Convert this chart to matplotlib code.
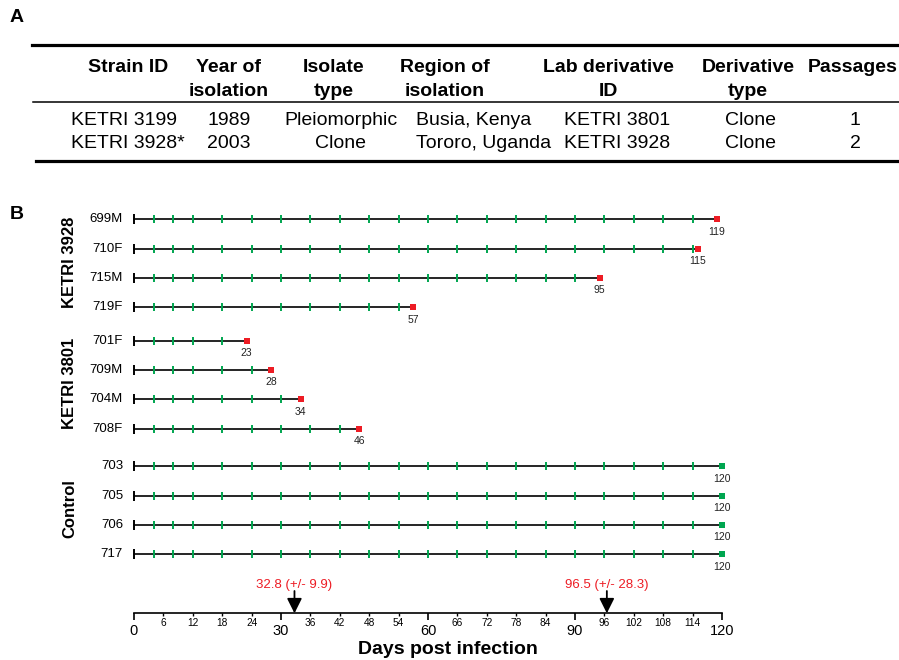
import numpy as np
import matplotlib
matplotlib.use('Agg')
import matplotlib.pyplot as plt
import matplotlib.transforms as mtransforms

plt.rcParams['font.family'] = ['Liberation Sans', 'DejaVu Sans']

# ---- table (panel A) ----
header_top = ["Strain ID", "Year of", "Isolate", "Region of", "Lab derivative", "Derivative", "Passages"]
header_bottom = ["", "isolation", "type", "isolation", "ID", "type", ""]
strains = ["KETRI 3199", "KETRI 3928*"]
years = ["1989", "2003"]
isolate_types = ["Pleiomorphic", "Clone"]
regions = ["Busia, Kenya", "Tororo, Uganda"]
lab_ids = ["KETRI 3801", "KETRI 3928"]
derivative_types = ["Clone", "Clone"]
passages = ["1", "2"]

# ---- survival (panel B) ----
groups = ["KETRI 3928", "KETRI 3801", "Control"]
mice = [["699M", "710F", "715M", "719F"],
        ["701F", "709M", "704M", "708F"],
        ["703", "705", "706", "717"]]
survival_days = [[119, 115, 95, 57],
                 [23, 28, 34, 46],
                 [120, 120, 120, 120]]
died = [True, True, False]
sample_days = [4, 8, 12, 18, 24, 30, 36, 42, 48, 54, 60, 66, 72, 78, 84, 90, 96, 102, 108, 114]

W, H = 899, 660
RED = '#ed1c24'
GREEN = '#00a650'

def fx(px):
    return px / W

def fy(py):
    return 1 - py / H

fig = plt.figure(figsize=(W / 100, H / 100), dpi=100)

# ---------- panel A ----------
fig.text(fx(10), fy(18), "A", fontsize=14, fontweight='bold', va='center')
fig.add_artist(plt.Line2D([fx(32), 1], [fy(44.5), fy(44.5)], color='black', lw=2.3))
fig.add_artist(plt.Line2D([fx(33), 1], [fy(102), fy(102)], color='black', lw=1.1))
fig.add_artist(plt.Line2D([fx(36), 1], [fy(160.5), fy(160.5)], color='black', lw=2.3))

head_x = [128, 229, 334, 445, 608, 748, 808]
head_ha = ['center', 'center', 'center', 'center', 'center', 'center', 'left']
for txt1, txt2, x, ha in zip(header_top, header_bottom, head_x, head_ha):
    fig.text(fx(x), fy(72.5), txt1, fontsize=14, fontweight='bold', ha=ha, va='baseline')
    if txt2:
        fig.text(fx(x), fy(96), txt2, fontsize=14, fontweight='bold', ha=ha, va='baseline')

columns = [strains, years, isolate_types, regions, lab_ids, derivative_types, passages]
body_x = [71, 229, 341, 416, 617, 750, 855]
body_ha = ['left', 'center', 'center', 'left', 'center', 'center', 'center']
row_base = [125.3, 148.3]
for col, x, ha in zip(columns, body_x, body_ha):
    for val, yb in zip(col, row_base):
        fig.text(fx(x), fy(yb), val, fontsize=14, ha=ha, va='baseline')

# ---------- panel B ----------
fig.text(fx(10), fy(215), "B", fontsize=14, fontweight='bold', va='center')

row_px = 29.35
ax_top, ax_bottom = 200, 613.3
first_row = 219.3
ax = fig.add_axes([fx(134), fy(ax_bottom), (722 - 134) / W, (ax_bottom - ax_top) / H])
ax.set_xlim(0, 120)
ax.set_ylim((ax_bottom - first_row) / row_px, (ax_top - first_row) / row_px)

group_gap = [0, 0.13, 0.42]
label_tr = mtransforms.blended_transform_factory(fig.transFigure, ax.transData)

i = 0
for g, name in enumerate(groups):
    ys = []
    for mouse, day in zip(mice[g], survival_days[g]):
        y = i + group_gap[g]
        ys.append(y)
        ax.plot([0, day], [y, y], color='black', lw=1.2, clip_on=False, zorder=2)
        ax.plot([0], [y], marker='|', color='black', ms=7, mew=1.4, clip_on=False, zorder=3)
        ticks = [d for d in sample_days if d < day]
        ax.plot(ticks, [y] * len(ticks), ls='none', marker='|', color=GREEN,
                ms=5.5, mew=1.4, clip_on=False, zorder=3)
        ax.plot([day], [y], ls='none', marker='s', color=RED if died[g] else GREEN,
                ms=5, mew=0, clip_on=False, zorder=4)
        ax.text(day, y + 0.42, str(day), fontsize=7.5, color='#222222',
                ha='center', va='center', clip_on=False)
        ax.text(fx(123), y, mouse, fontsize=9.5, ha='right', va='center', transform=label_tr)
        i += 1
    ax.text(fx(70), np.mean(ys) - 0.05, name, fontsize=12, fontweight='bold', rotation=90,
            ha='center', va='center', transform=label_tr)

# mean survival arrows for infected groups
arrow_tip = (ax_bottom - first_row) / row_px
arrow_tail = (591 - first_row) / row_px
text_y = (585 - first_row) / row_px
for g in [1, 0]:
    d = np.array(survival_days[g], dtype=float)
    m, s = d.mean(), d.std(ddof=1)
    ax.annotate('', xy=(m, arrow_tip), xytext=(m, arrow_tail),
                arrowprops=dict(arrowstyle='-|>,head_width=0.45,head_length=0.9',
                                color='black', lw=1.3, shrinkA=0, shrinkB=0),
                annotation_clip=False)
    ax.text(m, text_y, f"{m:.1f} (+/- {s:.1f})", color=RED, fontsize=9.5,
            ha='center', va='center', clip_on=False)

for side in ['left', 'right', 'top']:
    ax.spines[side].set_visible(False)
ax.spines['bottom'].set_linewidth(1.2)
ax.set_yticks([])
major = [0, 30, 60, 90, 120]
minor = [6, 12, 18, 24, 36, 42, 48, 54, 66, 72, 78, 84, 96, 102, 108, 114]
ax.set_xticks(major)
ax.set_xticklabels([str(v) for v in major], fontsize=10.5)
ax.set_xticks(minor, minor=True)
ax.set_xticklabels([str(v) for v in minor], minor=True, fontsize=7.3)
ax.tick_params(axis='x', which='major', direction='out', length=5, width=1.2, pad=2.5)
ax.tick_params(axis='x', which='minor', direction='out', length=2.2, width=1.0, pad=1.5)
ax.patch.set_visible(False)

fig.text(fx(448), fy(649), "Days post infection", fontsize=14, fontweight='bold',
         ha='center', va='center')

fig.savefig('out.png', dpi=100)
